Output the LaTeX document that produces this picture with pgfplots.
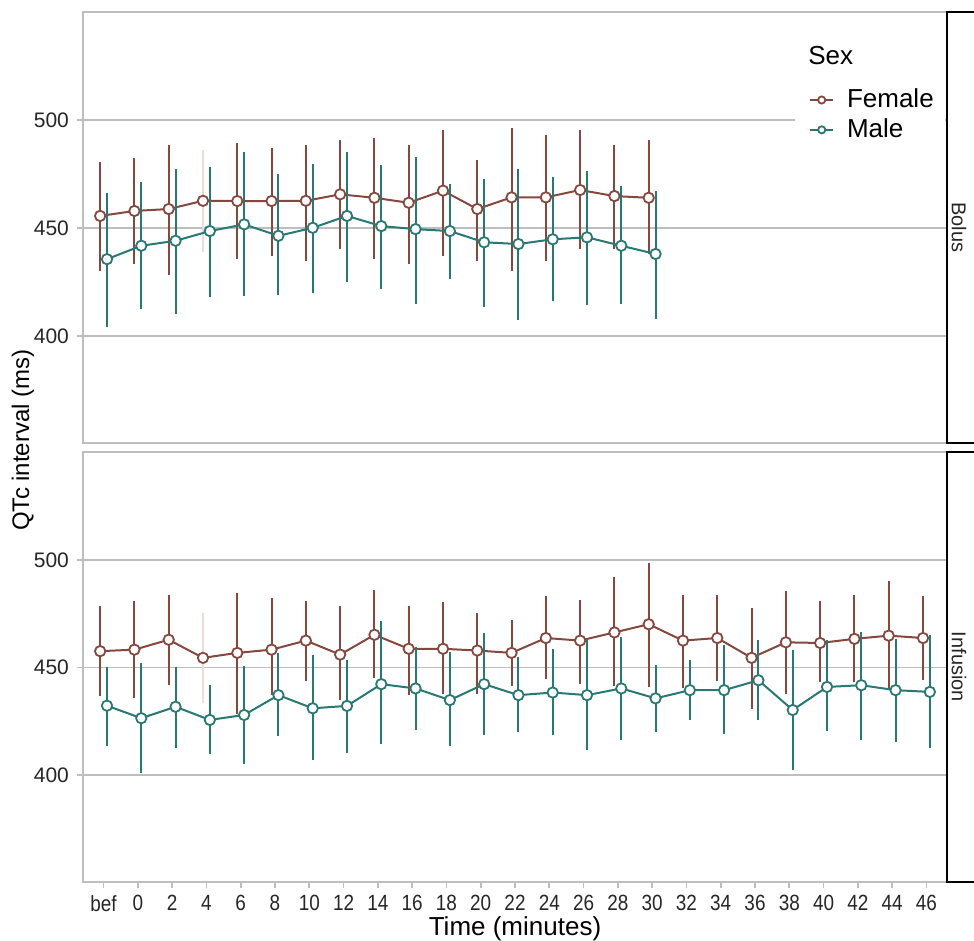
\documentclass[border=0pt]{standalone}
\usepackage{fontspec}
\setmainfont{Liberation Sans}
\usepackage{graphicx}
\usepackage{pgfplots}
\pgfplotsset{compat=1.18}
\usepackage{pgfplotstable}
\definecolor{fem}{RGB}{134,72,62}
\definecolor{mal}{RGB}{40,120,116}
\definecolor{gridg}{RGB}{190,190,190}
\newcommand\xl[1]{\scalebox{0.86}[1]{#1}}

% Bolus, Female (x = position - 0.1); row at 2.9 drawn faint separately
\pgfplotstableread{
x y hi lo
-0.1 455.6 479.5 431.0
0.9 457.9 481.5 434.1
1.9 458.8 487.6 429.0
2.9 462.6 462.6 462.6
3.9 462.5 488.4 436.4
4.9 462.5 486.1 438.0
5.9 462.6 487.6 435.5
6.9 465.6 490.0 441.0
7.9 464.0 490.8 436.4
8.9 461.7 487.6 434.1
9.9 467.3 494.6 438.0
10.9 458.8 480.7 435.6
11.9 464.2 495.4 431.0
12.9 464.2 492.3 435.6
13.9 467.6 494.6 441.4
14.9 464.8 487.6 441.4
15.9 464.0 490.0 439.0
}\bolF
\pgfplotstableread{
x y hi lo
0.1 435.6 465.3 405.0
1.1 441.8 470.2 413.6
2.1 444.1 476.4 411.3
3.1 448.6 477.2 419.0
4.1 451.7 484.1 419.4
5.1 446.4 474.0 419.8
6.1 450.1 478.7 421.0
7.1 455.6 484.1 425.9
8.1 450.9 478.4 422.8
9.1 449.5 481.8 415.9
10.1 448.6 469.4 427.2
11.1 443.4 471.8 414.4
12.1 442.6 476.4 408.2
13.1 444.8 472.5 417.1
14.1 445.7 475.6 415.2
15.1 441.8 468.7 415.9
16.1 438.0 466.3 409.0
}\bolM
\pgfplotstableread{
x y hi lo
-0.1 457.6 477.5 437.7
0.9 458.3 479.8 436.7
1.9 462.9 482.7 443.0
2.9 454.5 454.5 454.5
3.9 456.8 483.6 429.3
4.9 458.3 481.3 438.0
5.9 462.5 479.8 444.6
6.9 456.0 477.5 435.7
7.9 465.2 485.0 446.3
8.9 458.7 477.8 438.4
9.9 458.7 479.3 438.7
10.9 457.9 474.4 438.7
11.9 456.8 471.3 442.3
12.9 463.7 482.1 445.6
13.9 462.5 480.5 443.3
14.9 466.3 491.1 442.3
15.9 470.1 497.4 441.8
16.9 462.5 482.8 441.5
17.9 463.7 482.8 444.9
18.9 454.5 476.7 431.8
19.9 461.7 484.4 438.7
20.9 461.4 480.1 444.1
21.9 463.3 482.8 444.1
22.9 464.8 489.0 441.0
23.9 463.7 482.1 445.2
}\infF
\pgfplotstableread{
x y hi lo
0.1 432.3 449.5 414.6
1.1 426.5 451.4 402.0
2.1 431.8 449.5 413.8
3.1 425.7 441.0 410.9
4.1 428.0 449.9 406.1
5.1 437.2 455.9 419.2
6.1 431.1 454.8 408.1
7.1 432.2 452.5 411.2
8.1 442.3 470.9 415.5
9.1 440.3 458.7 421.9
10.1 434.9 456.4 414.7
11.1 442.3 465.2 419.6
12.1 437.2 454.1 420.8
13.1 438.4 457.9 419.6
14.1 437.2 462.5 412.7
15.1 440.3 463.3 417.3
16.1 435.7 450.2 420.8
17.1 439.5 452.5 426.5
18.1 439.5 459.4 420.3
19.1 444.1 461.7 426.5
20.1 430.3 457.1 403.5
21.1 441.0 461.7 421.5
22.1 441.8 465.5 417.3
23.1 439.5 462.5 416.5
24.1 438.7 464.0 413.5
}\infM

\pgfplotsset{
  panel/.style={
    width=432pt, scale only axis,
    xmin=-0.6, xmax=24.6, ymin=350.5, ymax=550,
    ytick={400,450,500},
    ymajorgrids, grid style={gridg, line width=0.9pt},
    axis line style={gridg, line width=0.9pt},
    tick style={gridg, line width=0.9pt},
    tick align=outside, major tick length=3pt,
    xtick pos=bottom, ytick pos=left,
    /pgf/number format/assume math mode=true,
    xticklabel style={font=\fontsize{11}{13}\selectfont, text=black!85},
    yticklabel style={font=\fontsize{10.5}{13}\selectfont, text=black!85, xshift=-0.5pt},
  },
  ser/.style={color=#1, line width=1pt, mark=*, mark size=2.6pt,
    mark options={fill=white, line width=0.9pt},
    error bars/.cd, y dir=both, y explicit,
    error bar style={color=#1, line width=1.05pt},
    error mark options={color=#1, mark size=1pt, line width=1pt}},
  faint/.style={forget plot, color=#1, mark=none,
    error bars/.cd, y dir=both, y explicit,
    error bar style={color=#1, line width=1pt},
    error mark options={color=#1, mark size=1pt, line width=1pt}},
}

\begin{document}
\begin{tikzpicture}
\path[use as bounding box] (0pt,0pt) rectangle (487pt,-470.5pt);

% Bolus panel
\begin{axis}[panel, at={(41.5pt,-221.5pt)}, anchor=south west, height=215.5pt,
  xtick=\empty,
  legend style={at={(0.838,0.836)}, anchor=north west, draw=none, fill=none,
    font=\fontsize{13}{15}\selectfont, inner sep=1pt, column sep=4.5pt,
    row sep=0pt},
  legend cell align=left,
  legend image code/.code={\draw[mark repeat=2,mark phase=2,#1,mark size=1.8pt,line width=0.8pt]
    plot coordinates {(0pt,0pt) (5.75pt,0pt) (11.5pt,0pt)};},
]
\addplot[faint=fem!18] coordinates {(2.9,462.6) +- (0,22.7)};
\addplot[ser=fem] table[x=x, y=y, y error plus expr=\thisrow{hi}-\thisrow{y},
  y error minus expr=\thisrow{y}-\thisrow{lo}] {\bolF};
\addlegendentry{Female}
\addplot[ser=mal] table[x=x, y=y, y error plus expr=\thisrow{hi}-\thisrow{y},
  y error minus expr=\thisrow{y}-\thisrow{lo}] {\bolM};
\addlegendentry{Male}
\fill[white] (rel axis cs:0.824,0.69) rectangle (rel axis cs:0.998,0.965);
\node[anchor=west, font=\fontsize{13}{15}\selectfont, inner sep=0pt]
  at (rel axis cs:0.839,0.9) {Sex};
\end{axis}

% Infusion panel
\begin{axis}[panel, at={(41.5pt,-441pt)}, anchor=south west, height=215pt,
  xtick={0,...,24},
  xticklabels={\xl{bef},\xl{0},\xl{2},\xl{4},\xl{6},\xl{8},\xl{10},\xl{12},\xl{14},\xl{16},\xl{18},\xl{20},\xl{22},\xl{24},\xl{26},\xl{28},\xl{30},\xl{32},\xl{34},\xl{36},\xl{38},\xl{40},\xl{42},\xl{44},\xl{46}},
  xlabel={Time (minutes)},
  xlabel style={font=\fontsize{13}{15}\selectfont, text=black, yshift=4pt},
]
\addplot[faint=fem!18] coordinates {(2.9,454.5) +- (0,20.0)};
\addplot[ser=fem] table[x=x, y=y, y error plus expr=\thisrow{hi}-\thisrow{y},
  y error minus expr=\thisrow{y}-\thisrow{lo}] {\infF};
\addplot[ser=mal] table[x=x, y=y, y error plus expr=\thisrow{hi}-\thisrow{y},
  y error minus expr=\thisrow{y}-\thisrow{lo}] {\infM};
\end{axis}

% facet strips
\draw[black, line width=0.9pt] (473.5pt,-6pt) rectangle (500pt,-221.5pt);
\draw[black, line width=0.9pt] (473.5pt,-226pt) rectangle (500pt,-441pt);
\node[rotate=-90, font=\fontsize{10}{12}\selectfont, text=black!85] at (479.5pt,-113.75pt) {Bolus};
\node[rotate=-90, font=\fontsize{10}{12}\selectfont, text=black!85] at (479.5pt,-333.5pt) {Infusion};

% shared y label
\node[rotate=90, font=\fontsize{12}{14}\selectfont] at (11.5pt,-220pt) {QTc interval (ms)};
\end{tikzpicture}
\end{document}
